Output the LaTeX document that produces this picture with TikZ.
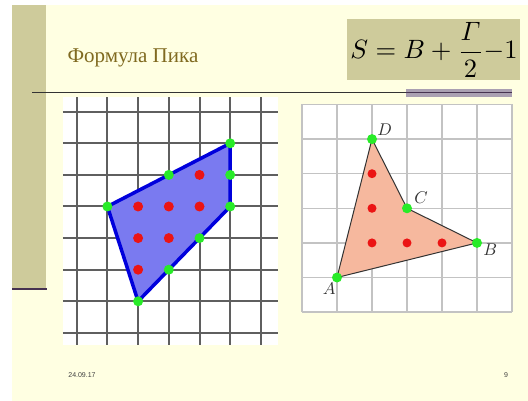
\documentclass[tikz,border=0pt]{standalone}
\usepackage{amsmath}
\usepackage{fontspec}
\setmainfont{Liberation Serif}
\newfontfamily\footfont{Liberation Sans}
\usetikzlibrary{positioning}
\definecolor{slidecream}{RGB}{255,255,226}
\definecolor{slideolive}{RGB}{206,203,155}
\definecolor{titlebrown}{RGB}{128,106,32}
\definecolor{barpurple}{RGB}{170,160,178}
\definecolor{linepurple}{RGB}{70,50,80}
\definecolor{polyblue}{RGB}{122,122,240}
\definecolor{edgeblue}{RGB}{0,0,220}
\definecolor{dotgreen}{RGB}{40,235,40}
\definecolor{dotred}{RGB}{235,20,20}
\definecolor{trisalmon}{RGB}{246,184,158}
\definecolor{darkgrid}{RGB}{95,95,95}
\definecolor{lightgrid}{RGB}{195,195,195}

\tikzset{
  vlabel/.style={scale=1.7, text=black!80, inner sep=0pt},
  footer/.style={font=\footfont\fontsize{7}{7}\selectfont, text=black!75},
}

\begin{document}
\begin{tikzpicture}[x=1pt,y=-1pt]
\useasboundingbox (0,0) rectangle (528,401);
\fill[white] (0,0) rectangle (528,401);
\fill[slidecream] (12,5) rectangle (528,401);
\fill[slideolive] (12,5) rectangle (46,289);
\draw[linepurple, line width=1.5pt] (12,289) -- (47,289);
% title and formula
\node[anchor=base west, text=titlebrown, font=\fontsize{21}{21}\selectfont] (title) at (64,63) {Формула Пика};
\fill[slideolive] (347,19) rectangle (520,80);
\node[scale=2.65] (pick) at (434,50) {$S=B+\dfrac{\varGamma}{2}{-}1$};
% rule under the title
\draw[black!80, line width=1pt] (32,93) -- (406,93);
\fill[barpurple] (406,89) rectangle (512,97);
\draw[linepurple, line width=1pt] (406,93) -- (512,93);
% left picture
\fill[white] (63,97) rectangle (278,345);
\begin{scope}[shift={(76.7,111.7)}, x=30.7pt, y=-31.6pt]
  \foreach \i in {0,...,6}
    \draw[darkgrid, line width=2pt] (\i,-0.46) -- (\i,7.38);
  \foreach \j in {0,...,7}
    \draw[darkgrid, line width=2pt] (-0.45,\j) -- (6.56,\j);
  \coordinate (P1) at (1,3);
  \coordinate (P2) at (5,1);
  \coordinate (P3) at (5,3);
  \coordinate (P4) at (2,6);
  \filldraw[fill=polyblue, draw=edgeblue, line width=3.5pt, line join=round]
    (P1) -- (P2) -- (P3) -- (P4) -- cycle;
  \foreach \p in {(4,2),(2,3),(3,3),(4,3),(2,4),(3,4),(2,5)}
    \fill[dotred] \p circle (5pt);
  \foreach \p in {(5,1),(3,2),(5,2),(1,3),(5,3),(4,4),(3,5),(2,6)}
    \fill[dotgreen] \p circle (5pt);
\end{scope}
% right picture
\fill[white] (302,104) rectangle (512,312);
\begin{scope}[shift={(302,104.5)}, x=35pt, y=-34.6pt]
  \foreach \i in {0,...,6} {
    \draw[lightgrid, line width=1.3pt] (\i,0) -- (\i,6);
    \draw[lightgrid, line width=1.3pt] (0,\i) -- (6,\i);
  }
  \coordinate (A) at (1,5);
  \coordinate (B) at (5,4);
  \coordinate (C) at (3,3);
  \coordinate (D) at (2,1);
  \filldraw[fill=trisalmon, draw=black!80, line width=1pt] (A) -- (B) -- (C) -- (D) -- cycle;
  \foreach \p in {(2,2),(2,3),(2,4),(3,4),(4,4)}
    \fill[dotred] \p circle (4.5pt);
  \foreach \p in {A,B,C,D}
    \fill[dotgreen] (\p) circle (5pt);
  \node[vlabel, above right=3pt and 5pt of D] (labD) {$D$};
  \node[vlabel, above right=4pt and 7pt of C] (labC) {$C$};
  \node[vlabel, below right=1pt and 6pt of B] (labB) {$B$};
  \node[vlabel, below left=5pt and 1pt of A] (labA) {$A$};
\end{scope}
% footer
\node[footer] (date) at (82,375) {24.09.17};
\node[footer] (page) at (506,375) {9};
\end{tikzpicture}
\end{document}
